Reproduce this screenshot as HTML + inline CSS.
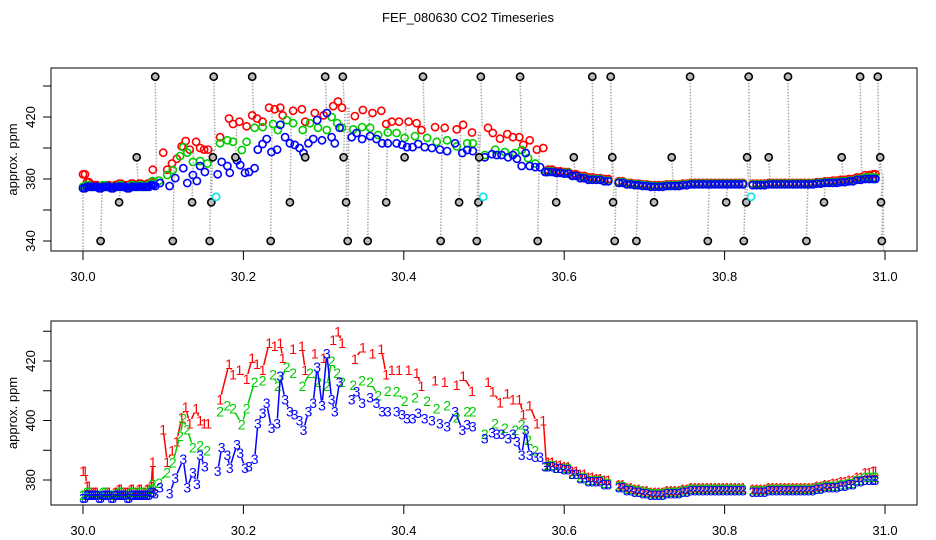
<!DOCTYPE html>
<html><head><meta charset="utf-8"><style>
html,body{margin:0;padding:0;background:#fff;}
svg{display:block;font-family:"Liberation Sans",sans-serif;}
</style></head><body>
<svg id="c" width="936" height="540" viewBox="0 0 936 540">
<rect width="936" height="540" fill="#fff"/>
<text x="468" y="22" text-anchor="middle" font-size="13">FEF_080630  CO2 Timeseries</text>
<g id="p1"></g>
<g id="p2"></g>
</svg>
<script>
const xTicks = [30.0, 30.2, 30.4, 30.6, 30.8, 31.0];
const xTickLabels = ["30.0","30.2","30.4","30.6","30.8","31.0"];
const topYTicks = [340, 360, 380, 400, 420, 440];
const topYLabels = ["340","","380","","420",""];
const botYTicks = [380, 390, 400, 410, 420, 430];
const botYLabels = ["380","","400","","420",""];

const flatT = [30.000,30.005,30.010,30.015,30.020,30.025,30.030,30.035,30.040,30.045,30.050,30.055,30.060,30.065,30.070,30.075,30.080,30.085];
const flatT2 = [30.0025,30.0075,30.0125,30.0175,30.0225,30.0275,30.0325,30.0375,30.0425,30.0475,30.0525,30.0575,30.0625,30.0675,30.0725,30.0775,30.0825,30.0875];
const tailT = [30.58,30.59,30.60,30.61,30.62,30.63,30.64,30.65,30.668,30.678,30.688,30.698,30.708,30.718,30.728,30.738,30.748,30.758,30.768,30.778,30.788,30.798,30.808,30.818,30.835,30.845,30.855,30.865,30.875,30.885,30.895,30.905,30.915,30.925,30.935,30.945,30.955,30.965,30.975,30.985];
const tailT2 = [30.585,30.595,30.605,30.615,30.625,30.635,30.645,30.655,30.673,30.683,30.693,30.703,30.713,30.723,30.733,30.743,30.753,30.763,30.773,30.783,30.793,30.803,30.813,30.823,30.840,30.850,30.860,30.870,30.880,30.890,30.900,30.910,30.920,30.930,30.940,30.950,30.960,30.970,30.980,30.988];

const redT = [30.087,30.100,30.105,30.111,30.117,30.123,30.128,30.133,30.141,30.146,30.151,30.156,30.171,30.182,30.187,30.195,30.204,30.211,30.217,30.224,30.232,30.239,30.246,30.249,30.262,30.273,30.277,30.289,30.300,30.312,30.318,30.323,30.339,30.349,30.361,30.372,30.378,30.385,30.394,30.406,30.416,30.422,30.439,30.451,30.466,30.474,30.485,30.505,30.511,30.520,30.529,30.536,30.544,30.549,30.557,30.566,30.574,30.578];
const redV = [386,397,386,390,393,401,404.5,399,404,400,399,399,407,419,415.5,417,414,421,419,417,426,425,426,421,424,425,417,422.6,421,427,430,426,420.6,424.5,422.6,424,415.5,417,417,417,416,411.6,413.5,413,412,415,410,413,409.7,406,409,407,407,402,405,399,400,384.5];
const redFlat = [383,378,376,376,375,375,376,375,376,377,376,376,377,376,377,376,377,378];
const redTail = [386,385,384.5,383,382,381,380.5,380,378.5,377.5,377,376.5,376,376,376.5,376.5,377,377.5,377.5,377.5,377.5,377.5,377.5,377.5,377,377,377.5,377.5,377.5,377.5,377.5,377.5,378,378.5,379,379.5,380,381,382.5,383];

const greenT = [30.087,30.095,30.105,30.112,30.121,30.125,30.130,30.137,30.146,30.155,30.171,30.180,30.187,30.198,30.204,30.214,30.224,30.237,30.243,30.254,30.262,30.274,30.283,30.293,30.304,30.310,30.317,30.323,30.337,30.348,30.358,30.368,30.380,30.391,30.401,30.414,30.429,30.441,30.454,30.466,30.479,30.486,30.501,30.514,30.526,30.539,30.547,30.555,30.564,30.578];
const greenV = [378.7,379,382.6,385.8,394.8,400.6,397,391,391.6,390,403,405,404,398.7,404,413,413.5,415.5,411.6,418,416,411.6,416,413,411.6,420,416,413,412,413.5,413,408.4,410,409.7,406.5,407.7,406.5,404,405,401,403,403,395.5,399,397.4,396.8,398.7,393.5,390,384.5];
const greenFlat = [375,376,375,375,375,376,375,375,375,376,375,375,376,375,376,375,376,377];
const greenTail = [385,384,384,382,381,380,380,379,378,377,376.5,376,375.5,375.5,376,376,376.5,377,377,377,377,377,377,377,376.5,376.5,377,377,377,377,377,377,377.5,378,378,378.5,379,380,381,381];

const blueT = [30.090,30.096,30.108,30.115,30.125,30.130,30.137,30.142,30.146,30.152,30.168,30.173,30.180,30.183,30.192,30.196,30.202,30.207,30.214,30.218,30.224,30.229,30.235,30.242,30.246,30.252,30.258,30.264,30.270,30.275,30.281,30.287,30.292,30.298,30.304,30.310,30.314,30.320,30.335,30.341,30.348,30.358,30.366,30.373,30.380,30.391,30.398,30.404,30.411,30.418,30.426,30.435,30.445,30.454,30.464,30.473,30.479,30.486,30.501,30.510,30.516,30.522,30.530,30.536,30.541,30.547,30.552,30.557,30.564,30.570,30.576];
const blueV = [375.5,377.4,375.5,380.6,387,377.4,382.6,378.7,388.4,384.5,383,391,388.4,384,392,389,384,384.5,387,399,402.6,405.8,397.4,399,415,407,403,402,400,396.8,403,405.8,418,405,422.6,407,403,413,407,409.7,405.8,407.7,405.8,403,403,403,402,400.6,400.6,402.6,400.6,400,399,398,403,396.8,398.7,398,394,396,395.5,395.5,394,395.5,393,388.4,396.8,388.4,387.7,387.7,384.5];
const blueFlat = [374,375,375,375,374,375,375,374,375,375,375,374,375,375,375,375,375,376];
const blueTail = [384.5,384,383.5,382,380.5,379.5,379.5,378.5,377.5,376.5,376,375.5,375,375,375.5,375.5,376,376.5,376.5,376.5,376.5,376.5,376.5,376.5,376,376,376.5,376.5,376.5,376.5,376.5,376.5,377,377.5,377.5,378,378.5,379.5,380,380];

const blackT = [30.022,30.045,30.067,30.090,30.112,30.136,30.158,30.160,30.162,30.163,30.190,30.211,30.234,30.258,30.277,30.302,30.324,30.325,30.328,30.330,30.355,30.378,30.401,30.424,30.446,30.469,30.491,30.493,30.494,30.496,30.545,30.567,30.590,30.612,30.635,30.658,30.660,30.661,30.663,30.690,30.712,30.734,30.757,30.779,30.802,30.824,30.827,30.828,30.830,30.855,30.879,30.902,30.924,30.946,30.969,30.991,30.994,30.995,30.996];
const blackV = [340,365,394,446,340,365,340,365,394,446,394,446,340,365,394,446,446,394,365,340,340,365,394,446,340,365,340,365,394,446,446,340,365,394,446,446,394,365,340,340,365,394,446,340,365,340,365,394,446,394,446,340,365,394,446,446,394,365,340];
const cyanT = [30.166, 30.499, 30.833];
const cyanV = [368.5, 368.5, 368.5];

const NS = "http://www.w3.org/2000/svg";
function mk(tag, attrs, parent){const e=document.createElementNS(NS,tag);for(const k in attrs)e.setAttribute(k,attrs[k]);parent.appendChild(e);return e;}
const X0=51,X1=917;
function xs(t){return 83+(t-30)*802;}
function ysTop(v){return 179-(v-380)*1.55;}
function ysBot(v){return 480-(v-380)*2.975;}

function join(){return [].concat(...arguments);}
function sortPair(t,v){const idx=t.map((_,i)=>i).sort((a,b)=>t[a]-t[b]);return {t:idx.map(i=>t[i]),v:idx.map(i=>v[i])};}
const series = [
 Object.assign({n:"red",c:"#ff0000",ch:"1"},sortPair(join(flatT,flatT2,redT,tailT,tailT2),join(redFlat,redFlat,redV,redTail,redTail))),
 Object.assign({n:"green",c:"#00cd00",ch:"2"},sortPair(join(flatT,flatT2,greenT,tailT,tailT2),join(greenFlat,greenFlat,greenV,greenTail,greenTail))),
 Object.assign({n:"blue",c:"#0000ff",ch:"3"},sortPair(join(flatT,flatT2,blueT,tailT,tailT2),join(blueFlat,blueFlat,blueV,blueTail,blueTail)))
];
function nearestVal(s,t){let bi=0,bd=1e9;s.t.forEach((tt,i)=>{const d=Math.abs(tt-t);if(d<bd){bd=d;bi=i;}});return s.v[bi];}

function axes(g, top, bot, ys, yt, yl, name){
  const box=mk("rect",{x:X0,y:top,width:X1-X0,height:bot-top,fill:"none",stroke:"#000","stroke-width":1},g);
  
  
  xTicks.forEach((t,i)=>{
    const x=xs(t);
    const tk=mk("line",{x1:x,y1:bot,x2:x,y2:bot+9,stroke:"#000"},g);
    
    
    const lb=mk("text",{x:x,y:bot+30,"text-anchor":"middle","font-size":13},g);
    lb.textContent=xTickLabels[i];
    
    
  });
  yt.forEach((v,i)=>{
    const y=ys(v);
    const tk=mk("line",{x1:X0-8,y1:y,x2:X0,y2:y,stroke:"#000"},g);
    
    
    if(yl[i]){
      const lb=mk("text",{x:0,y:0,"text-anchor":"middle","font-size":13,transform:`translate(35,${y}) rotate(-90)`},g);
      lb.textContent=yl[i];
      
      
    }
  });
  const yt2=mk("text",{x:0,y:0,"text-anchor":"middle","font-size":13,transform:`translate(17,${(top+bot)/2}) rotate(-90)`},g);
  yt2.textContent="approx. ppm";
  
  
}

// TOP PANEL
const p1=document.getElementById("p1");
axes(p1,68,251,ysTop,topYTicks,topYLabels,"top");
const cp1=mk("clipPath",{id:"cl1"},p1); mk("rect",{x:X0,y:68,width:X1-X0,height:183},cp1);
const inner1=mk("g",{"clip-path":"url(#cl1)"},p1);
const gdash={fill:"none",stroke:"#aaaaaa","stroke-width":1.5,"stroke-dasharray":"1.5,1.5"};
const e1=mk("line",Object.assign({x1:xs(30.0),y1:ysTop(376),x2:xs(30.0),y2:260},gdash),inner1);


const e2=mk("line",Object.assign({x1:xs(30.998),y1:ysTop(366),x2:xs(30.998),y2:260},gdash),inner1);


blackT.forEach((t,i)=>{
  const x=xs(t);
  const ln=mk("line",Object.assign({x1:x,y1:ysTop(blackV[i]),x2:x+1.5,y2:ysTop(nearestVal(series[0],t))},gdash),inner1);
  
  
});
series.forEach(s=>{
  s.t.forEach((t,i)=>{
    const c=mk("circle",{cx:xs(t).toFixed(1),cy:ysTop(s.v[i]).toFixed(1),r:3.6,fill:"none",stroke:s.c,"stroke-width":1.6},inner1);
    
    
  });
});
blackT.forEach((t,i)=>{
  const c=mk("circle",{cx:xs(t).toFixed(1),cy:ysTop(blackV[i]).toFixed(1),r:3.6,fill:"#bbb",stroke:"#000","stroke-width":1.6},inner1);
  
  
});
cyanT.forEach((t,i)=>{
  const c=mk("circle",{cx:xs(t).toFixed(1),cy:ysTop(cyanV[i]).toFixed(1),r:3.6,fill:"none",stroke:"#00e5ee","stroke-width":1.6},inner1);
  
  
});

// BOTTOM PANEL
const p2=document.getElementById("p2");
axes(p2,321,505,ysBot,botYTicks,botYLabels,"bottom");
const cp2=mk("clipPath",{id:"cl2"},p2); mk("rect",{x:X0,y:321,width:X1-X0,height:184},cp2);
const inner2=mk("g",{"clip-path":"url(#cl2)"},p2);
series.forEach(s=>{
  const g=mk("g",{},inner2);
  
  
  for(let i=1;i<s.t.length;i++){
    if(s.t[i]-s.t[i-1]>0.012) continue;
    const x1=xs(s.t[i-1]),y1=ysBot(s.v[i-1]),x2=xs(s.t[i]),y2=ysBot(s.v[i]);
    const L=Math.hypot(x2-x1,y2-y1),gap=5;
    if(L<=2*gap) continue;
    const ux=(x2-x1)/L,uy=(y2-y1)/L;
    const ln=mk("line",{x1:(x1+ux*gap).toFixed(1),y1:(y1+uy*gap).toFixed(1),x2:(x2-ux*gap).toFixed(1),y2:(y2-uy*gap).toFixed(1),stroke:s.c,"stroke-width":1.5},g);
    
    
  }
  s.t.forEach((t,i)=>{
    const tx=mk("text",{x:xs(t).toFixed(1),y:(ysBot(s.v[i])+5).toFixed(1),"text-anchor":"middle","font-size":14,fill:s.c},g);
    tx.textContent=s.ch;
    
    
  });
});
</script>
</body></html>
